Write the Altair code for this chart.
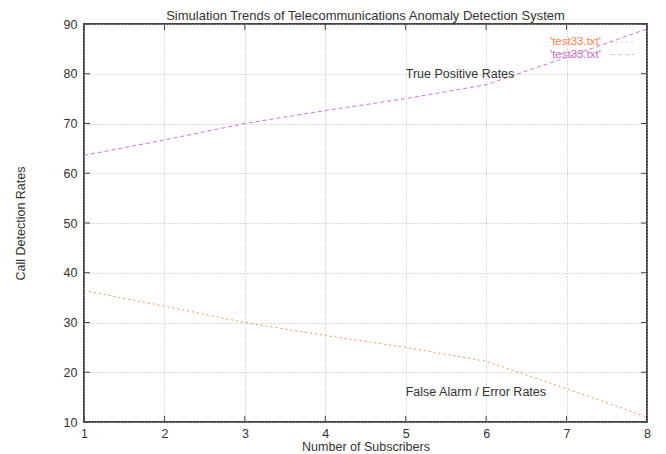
import altair as alt
import pandas as pd

# ---- data ----
subscribers = [1, 2, 3, 4, 5, 6, 7, 8]
true_positive = [63.6, 66.7, 70.0, 72.6, 75.0, 77.8, 83.3, 89.0]
false_alarm = [36.4, 33.3, 30.0, 27.4, 25.0, 22.2, 16.7, 11.0]
series_keys = ["fa", "tp"]
series_colors = ["#ff7f50", "#cc66cc"]
series_dash = [[2, 3], [4, 3]]
legend_label = "'test33.txt'"
y_ticks = [10, 20, 30, 40, 50, 60, 70, 80, 90]
annotations = ["True Positive Rates", "False Alarm / Error Rates"]
annot_x = [5.0, 5.0]
annot_y = [80.0, 16.0]

W, H = 563, 398
FONT = "Liberation Sans"
FS = 12.5

rows = []
for s, tp, fa in zip(subscribers, true_positive, false_alarm):
    rows.append({"x": s, "y": fa, "series": "fa"})
    rows.append({"x": s, "y": tp, "series": "tp"})
df = pd.DataFrame(rows)

xscale = alt.Scale(domain=[1, 8], nice=False, zero=False)
yscale = alt.Scale(domain=[10, 90], nice=False, zero=False)
cscale = alt.Scale(domain=series_keys, range=series_colors)
dscale = alt.Scale(domain=series_keys, range=series_dash)

xaxis = alt.Axis(values=subscribers, title="Number of Subscribers", grid=True,
                 gridDash=[1, 2], gridColor="#b8b8b8", ticks=False, domain=False,
                 labelFontSize=FS, labelColor="#333", labelPadding=5, labelFont=FONT,
                 labelFlush=False,
                 titleFont=FONT, titleFontSize=FS, titleFontWeight="normal",
                 titleColor="#333", titlePadding=1, format="d")
yaxis = alt.Axis(values=y_ticks, title="Call Detection Rates", grid=True,
                 gridDash=[1, 2], gridColor="#b8b8b8", ticks=False, domain=False,
                 labelFontSize=FS, labelColor="#333", labelPadding=7, labelFont=FONT,
                 labelFlush=False,
                 titleFont=FONT, titleFontSize=FS, titleFontWeight="normal",
                 titleColor="#333", titlePadding=36, format="d")

lines = alt.Chart(df).mark_line(strokeWidth=1, opacity=0.9).encode(
    x=alt.X("x:Q", scale=xscale, axis=xaxis),
    y=alt.Y("y:Q", scale=yscale, axis=yaxis),
    color=alt.Color("series:N", scale=cscale, legend=None),
    strokeDash=alt.StrokeDash("series:N", scale=dscale, legend=None),
)

# inward ticks on all four sides (gnuplot style)
xt = pd.DataFrame({"x": subscribers})
yt = pd.DataFrame({"y": y_ticks})
tick_style = dict(color="#444", strokeWidth=1)
xt_bottom = alt.Chart(xt).mark_rule(**tick_style).encode(x=alt.X("x:Q", scale=xscale), y=alt.value(H), y2=alt.value(H - 6))
xt_top = alt.Chart(xt).mark_rule(**tick_style).encode(x=alt.X("x:Q", scale=xscale), y=alt.value(0), y2=alt.value(6))
yt_left = alt.Chart(yt).mark_rule(**tick_style).encode(y=alt.Y("y:Q", scale=yscale), x=alt.value(0), x2=alt.value(6))
yt_right = alt.Chart(yt).mark_rule(**tick_style).encode(y=alt.Y("y:Q", scale=yscale), x=alt.value(W), x2=alt.value(W - 6))

# in-plot labels
ann = pd.DataFrame({"x": annot_x, "y": annot_y, "t": annotations})
ann_text = alt.Chart(ann).mark_text(align="left", baseline="middle", font=FONT, fontSize=FS, color="#333").encode(
    x=alt.X("x:Q", scale=xscale), y=alt.Y("y:Q", scale=yscale), text="t:N")

# gnuplot-style key (text then sample line), one row per series
key_layers = []
for i, (k, c, d) in enumerate(zip(series_keys, series_colors, series_dash)):
    ky = 18 + i * 12.5
    kd = pd.DataFrame({"label": [legend_label]})
    key_layers.append(alt.Chart(kd).mark_text(align="right", baseline="middle", font=FONT, fontSize=11.5, color=c).encode(
        x=alt.value(517), y=alt.value(ky), text="label:N"))
    key_layers.append(alt.Chart(kd).mark_rule(strokeWidth=1, opacity=0.5, color=c, strokeDash=d).encode(
        x=alt.value(527), x2=alt.value(550), y=alt.value(ky)))

chart = alt.layer(lines, xt_bottom, xt_top, yt_left, yt_right, ann_text, *key_layers).properties(
    width=W, height=H,
    title=alt.TitleParams("Simulation Trends of Telecommunications Anomaly Detection System",
                          font=FONT, fontSize=13, fontWeight="normal", color="#333",
                          anchor="middle", offset=-5, frame="group"),
    autosize=alt.AutoSizeParams(type="none"),
    padding={"left": 76, "top": 16, "right": 11, "bottom": 32},
    background="#ffffff",
).configure_view(stroke="#444", strokeWidth=2)

chart.save("out.html", embed_options={"renderer": "svg", "actions": False})
